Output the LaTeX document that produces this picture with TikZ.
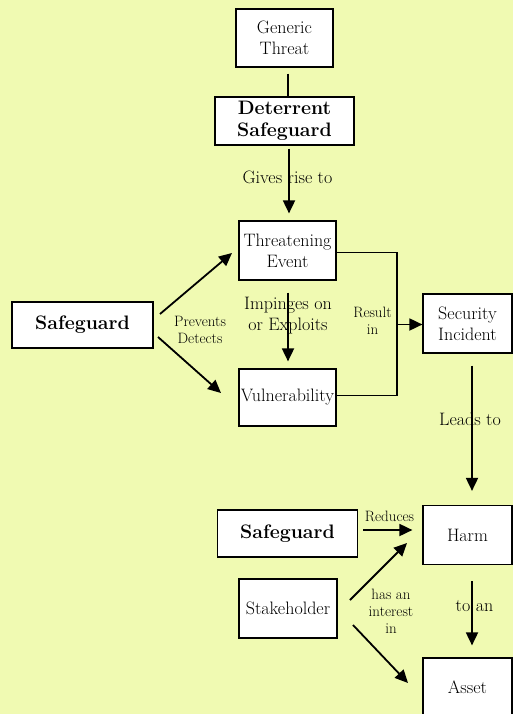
\documentclass[tikz,border=0pt]{standalone}
\usetikzlibrary{arrows.meta}
\definecolor{bgyellow}{RGB}{240,250,178}
\newcommand\normtxt{\fontsize{18}{21}\selectfont}
\newcommand\smalltxt{\fontsize{15}{17}\selectfont}
\newcommand\boldtxt{\fontsize{19.5}{22}\selectfont\bfseries}
\begin{document}
\begin{tikzpicture}[x=1pt,y=-1pt,
  box/.style={draw=black, line width=1.2pt, fill=white, inner sep=0pt, align=center, font=\normtxt},
  boldbox/.style={box, font=\boldtxt},
  lbl/.style={inner sep=0pt, align=center, font=\normtxt},
  slbl/.style={inner sep=0pt, align=center, font=\smalltxt},
  arr/.style={line width=1.8pt, -{Triangle[length=13pt,width=12pt]}},
  conn/.style={line width=1.8pt}]
\fill[bgyellow] (0,0) rectangle (513,714);
\useasboundingbox (0,0) rectangle (513,714);

% boxes
\node[box, minimum width=97pt, minimum height=58pt] (gen) at (284.5,38) {Generic\\Threat};
\node[boldbox, minimum width=139pt, minimum height=48pt] (det) at (284.5,121) {Deterrent\\Safeguard};
\node[box, minimum width=97pt, minimum height=59pt] (te) at (287.5,250.5) {Threatening\\Event};
\node[box, minimum width=97pt, minimum height=57pt] (vul) at (287.5,397.5) {\raisebox{2.5pt}{Vulnerability}};
\node[boldbox, minimum width=141pt, minimum height=46pt] (sg1) at (82.5,325) {Safeguard};
\node[box, minimum width=89pt, minimum height=59pt] (si) at (467.5,323.5) {Security\\Incident};
\node[box, minimum width=89pt, minimum height=59pt] (harm) at (467.5,535) {Harm};
\node[boldbox, minimum width=140pt, minimum height=47pt] (sg2) at (287.5,533.5) {Safeguard};
\node[box, minimum width=98pt, minimum height=59pt] (sh) at (288,608.5) {Stakeholder};
\node[box, minimum width=89pt, minimum height=58pt] (asset) at (467.5,687) {Asset};

% labels
\node[lbl, anchor=base] (gr) at (287.5,183) {Gives rise to};
\node[lbl] (imp) at (288,316) {Impinges on\\or Exploits};
\node[slbl] (pd) at (200,329.5) {Prevents\\Detects};
\node[slbl] (ri) at (372.5,321) {Result\\in};
\node[lbl] (lt) at (470,419) {Leads to};
\node[slbl] (red) at (389.5,516) {Reduces};
\node[slbl] (hai) at (391,611) {has an\\interest\\in};
\node[lbl] (ta) at (474.5,606) {to an};

% connectors
\draw[conn, shorten <=6pt] (gen.south -| 288,0) -- (det.north -| 288,0);
\draw[arr, shorten <=3pt, shorten >=7pt] (det.south -| 289,0) -- (te.north -| 289,0);
\draw[arr, shorten <=12pt, shorten >=7pt] (te.south -| 288,0) -- (vul.north -| 288,0);

\coordinate (p1) at (160,314);
\coordinate (p2) at (232,253);
\coordinate (p3) at (158,337);
\coordinate (p4) at (221,393);
\draw[arr] (p1) -- (p2);
\draw[arr] (p3) -- (p4);

\coordinate (rj) at (397,324.5);
\draw[conn] (te.east |- 0,252.5) -- (397,252.5) -- (397,395.5) -- (vul.east |- 0,395.5);
\draw[arr] (rj) -- (si.west |- rj);

\draw[arr, shorten <=12pt, shorten >=14pt] (si.south -| 472,0) -- (harm.north -| 472,0);
\draw[arr, shorten <=5pt, shorten >=10pt] (sg2.east |- 0,530) -- (harm.west |- 0,530);

\coordinate (q1) at (350,600);
\coordinate (q2) at (407,543);
\coordinate (q3) at (353,625);
\coordinate (q4) at (408,683);
\draw[arr] (q1) -- (q2);
\draw[arr] (q3) -- (q4);

\draw[arr, shorten <=16pt, shorten >=12pt] (harm.south -| 472,0) -- (asset.north -| 472,0);
\end{tikzpicture}
\end{document}
